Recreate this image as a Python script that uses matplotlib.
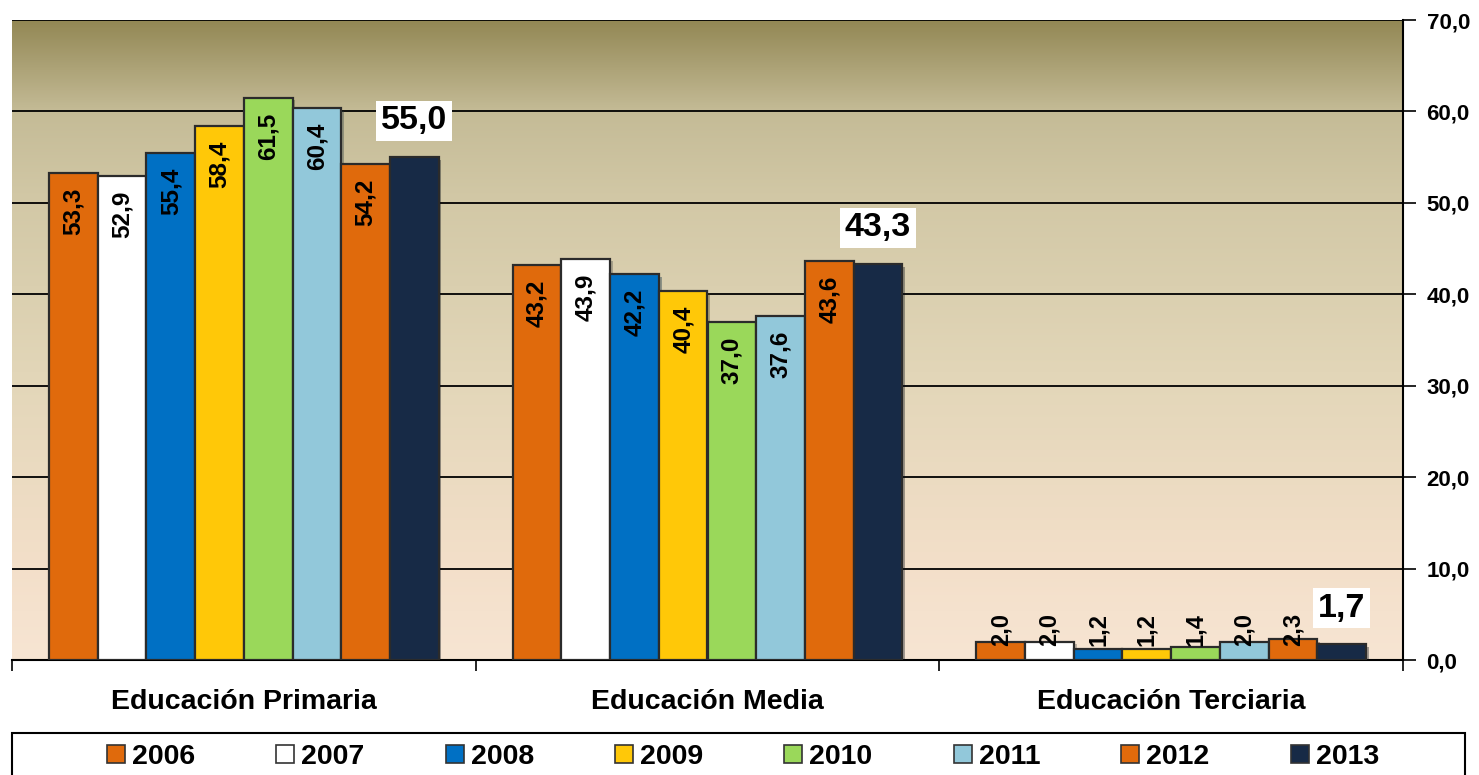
import matplotlib.pyplot as plt
import matplotlib.patheffects as pe
from matplotlib.patches import Patch, Rectangle
from matplotlib.colors import LinearSegmentedColormap
import numpy as np

plt.rcParams['font.family'] = ['Liberation Sans', 'DejaVu Sans']
plt.rcParams['font.weight'] = 'bold'

# datos
niveles = ['Educación Primaria', 'Educación Media', 'Educación Terciaria']
anios = ['2006', '2007', '2008', '2009', '2010', '2011', '2012', '2013']
valores = {
    '2006': [53.3, 43.2, 2.0],
    '2007': [52.9, 43.9, 2.0],
    '2008': [55.4, 42.2, 1.2],
    '2009': [58.4, 40.4, 1.2],
    '2010': [61.5, 37.0, 1.4],
    '2011': [60.4, 37.6, 2.0],
    '2012': [54.2, 43.6, 2.3],
    '2013': [55.0, 43.3, 1.7],
}
colores = ['#e06a0c', '#ffffff', '#0070c4', '#ffc808', '#9ad85a',
           '#92c8da', '#e06a0c', '#172a46']

def fmt(v):
    return f'{v:.1f}'.replace('.', ',')

W, H = 1479, 775
fig = plt.figure(figsize=(W / 100, H / 100), dpi=100)
ax = fig.add_axes([12 / W, 1 - 660 / H, (1403 - 12) / W, 640 / H])

# fondo degradado
cmap = LinearSegmentedColormap.from_list('fondo', [
    (0.0, '#f7e5d3'), (0.15, '#f3dfc9'), (0.45, '#e2d6b8'),
    (0.72, '#d2c8a6'), (0.86, '#c4bb96'), (1.0, '#938855')])
grad = np.linspace(0, 1, 256).reshape(-1, 1)
ax.imshow(grad, cmap=cmap, origin='lower', aspect='auto',
          extent=(-0.5, 2.5, 0, 70), zorder=0)

x = np.arange(len(niveles))
w = 0.105
sombra = [pe.SimplePatchShadow(offset=(2, -2), alpha=0.35), pe.Normal()]
for j, (a, c) in enumerate(zip(anios, colores)):
    pos = x + (j - 3.5) * w
    bars = ax.bar(pos, valores[a], w, color=c, edgecolor='#2b2b2b',
                  linewidth=1.6, zorder=3)
    for b in bars:
        b.set_path_effects(sombra)
    for px, v in zip(pos, valores[a]):
        if a == '2013':
            ax.annotate(fmt(v), (px, v), xytext=(0, 15), textcoords='offset points',
                        ha='center', va='bottom', fontsize=24.5, fontweight='bold',
                        bbox=dict(facecolor='white', edgecolor='none', pad=3.5),
                        zorder=5)
        elif v < 5:
            ax.text(px, 1.5, fmt(v), rotation=90, ha='center', va='bottom',
                    fontsize=17, fontweight='bold', zorder=5)
        else:
            ax.text(px, v - 1.6, fmt(v), rotation=90, ha='center', va='top',
                    fontsize=17.5, fontweight='bold', zorder=5)

ax.set_xlim(-0.5, 2.5)
ax.set_ylim(0, 70)
ax.set_yticks(np.arange(0, 71, 10))
ax.set_yticklabels([fmt(t) for t in np.arange(0, 71, 10)], fontsize=16, fontweight='bold')
ax.yaxis.tick_right()
ax.tick_params(axis='y', direction='out', length=9, width=1.2, pad=8)
ax.grid(axis='y', color='black', linewidth=1.3, zorder=1)
ax.set_axisbelow(True)

ax.set_xticks(x)
ax.set_xticklabels(niveles, fontsize=20.5, fontweight='bold')
ax.set_xticks([-0.5, 0.5, 1.5, 2.5], minor=True)
ax.tick_params(axis='x', which='major', length=0, pad=21)
ax.tick_params(axis='x', which='minor', direction='out', length=8, width=1.2)

for s in ['left', 'top']:
    ax.spines[s].set_visible(False)
ax.spines['right'].set_linewidth(1.5)
ax.spines['bottom'].set_linewidth(1.5)

# leyenda
fig.patches.append(Rectangle((12 / W, -0.05), (1465 - 12) / W, 0.05 + 1 - 733 / H,
                             transform=fig.transFigure, facecolor='white',
                             edgecolor='black', linewidth=1.5))
handles = [Patch(facecolor=c, edgecolor='#333333', linewidth=1.2) for c in colores]
fig.legend(handles, anios, loc='center', bbox_to_anchor=(743 / W, 1 - 757 / H),
           ncol=8, frameon=False, prop={'size': 20.5, 'weight': 'bold'},
           handlelength=0.63, handleheight=0.63, handletextpad=0.25,
           columnspacing=2.85, borderpad=0)

fig.savefig('out.png', dpi=100)
